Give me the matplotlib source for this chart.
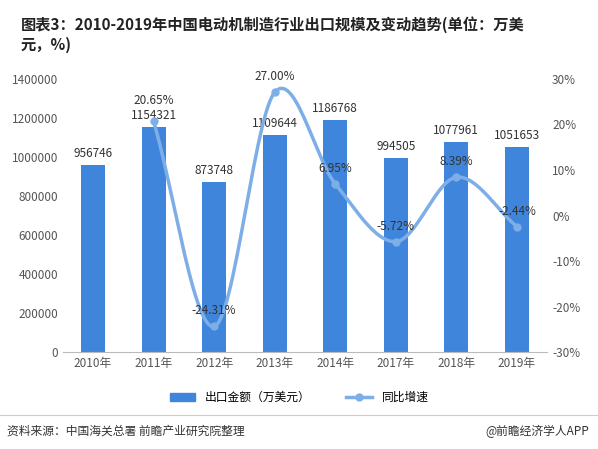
import numpy as np
import matplotlib
matplotlib.use("Agg")
import matplotlib.pyplot as plt
from matplotlib.lines import Line2D
from matplotlib.patches import Patch

plt.rcParams['font.family'] = ['Noto Sans CJK SC', 'DejaVu Sans']

years = ['2010年', '2011年', '2012年', '2013年', '2014年', '2017年', '2018年', '2019年']
exports = [956746, 1154321, 873748, 1109644, 1186768, 994505, 1077961, 1051653]
growth = [20.65, -24.31, 27.00, 6.95, -5.72, 8.39, -2.44]  # 2011-2019

bar_c = '#3F85DB'
line_c = '#7EAEE8'

fig = plt.figure(figsize=(5.98, 4.49), dpi=100)
ax = fig.add_axes([0.105, 0.215, 0.81, 0.61])
x = np.arange(len(years))
ax.bar(x, exports, width=0.4, color=bar_c, zorder=2)
for xi, v in zip(x, exports):
    ax.text(xi, v + 25000, str(v), ha='center', va='bottom', fontsize=8.5, color='#333333', zorder=5)
ax.set_ylim(0, 1400000)
yt = np.arange(0, 1400001, 200000)
ax.set_yticks(yt)
ax.set_yticklabels([str(v) for v in yt])
ax.set_xlim(-0.5, len(years) - 0.5)
ax.set_xticks(x)
ax.set_xticklabels(years)
ax.tick_params(labelsize=8.5, colors='#555555', length=0)
for s in ['top', 'right', 'left']:
    ax.spines[s].set_visible(False)
ax.spines['bottom'].set_color('#bbbbbb')

ax2 = ax.twinx()
ax2.set_ylim(-30, 30)
ax2.set_yticks(np.arange(-30, 31, 10))
ax2.set_yticklabels([f'{v}%' for v in range(-30, 31, 10)])
ax2.tick_params(labelsize=8.5, colors='#555555', length=0)
for s in ax2.spines.values():
    s.set_visible(False)

gx = x[1:].astype(float)
gy = np.array(growth, dtype=float)
px = np.concatenate([[2*gx[0]-gx[1]], gx, [2*gx[-1]-gx[-2]]])
py = np.concatenate([[2*gy[0]-gy[1]], gy, [2*gy[-1]-gy[-2]]])
sx, sy = [], []
t = np.linspace(0, 1, 30)
for i in range(1, len(px) - 2):
    p0, p1, p2, p3 = [np.array([px[j], py[j]]) for j in (i-1, i, i+1, i+2)]
    for tt in t:
        pt = 0.5*((2*p1) + (-p0+p2)*tt + (2*p0-5*p1+4*p2-p3)*tt**2 + (-p0+3*p1-3*p2+p3)*tt**3)
        sx.append(pt[0]); sy.append(pt[1])
ax2.plot(sx, sy, color=line_c, lw=2.5, zorder=3)
ax2.plot(gx, gy, 'o', color=line_c, ms=5, zorder=4)
for xi, v in zip(gx, gy):
    off = 3.2 if xi == 1 else 2
    ax2.text(xi, v + off, f'{v:.2f}%', ha='center', va='bottom', fontsize=8.5, color='#333333', zorder=5)

fig.text(0.035, 0.965, '图表3：2010-2019年中国电动机制造行业出口规模及变动趋势(单位：万美\n元，%)',
         ha='left', va='top', fontsize=11, fontweight='bold', color='#222222', linespacing=1.3)

handles = [Patch(color=bar_c), Line2D([0], [0], color=line_c, lw=2.5, marker='o', ms=5)]
fig.legend(handles, ['出口金额（万美元）', '同比增速'], loc='center', bbox_to_anchor=(0.5, 0.115),
           ncol=2, frameon=False, fontsize=8.5, columnspacing=3, handlelength=2.2)

fig.add_artist(Line2D([0.0, 1.0], [0.075, 0.075], color='#cccccc', lw=0.8))
fig.text(0.012, 0.04, '资料来源：中国海关总署 前瞻产业研究院整理', fontsize=8.5, color='#333333', va='center')
fig.text(0.985, 0.04, '@前瞻经济学人APP', fontsize=8.5, color='#333333', va='center', ha='right')

fig.savefig('out.png', dpi=100)
